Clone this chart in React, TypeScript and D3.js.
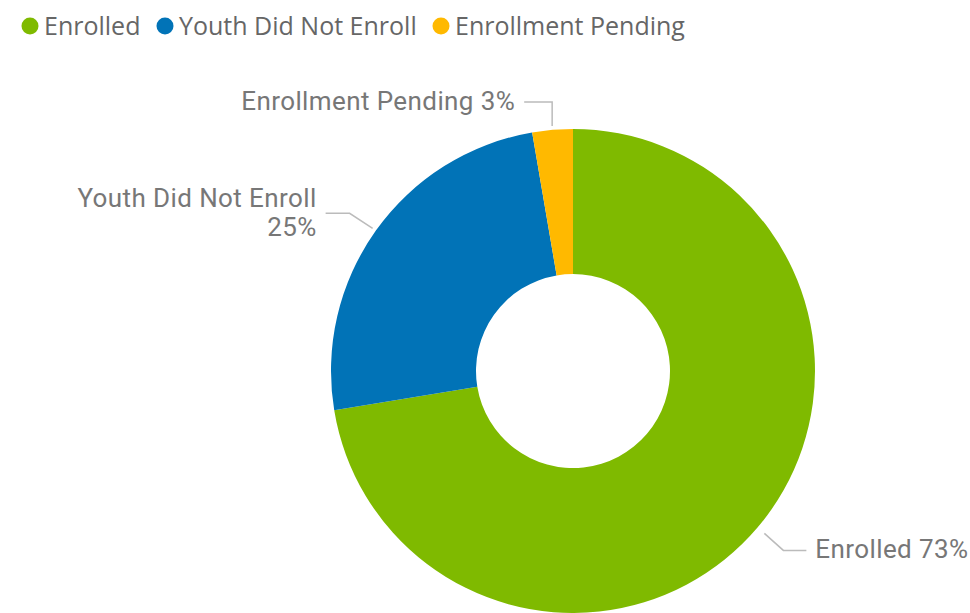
import React, { useEffect, useRef } from "react";
import * as d3 from "d3";

const categories = ["Enrolled", "Youth Did Not Enroll", "Enrollment Pending"];
const values = [72.4, 24.9, 2.7];
const labelTexts = [["Enrolled 73%"], ["Youth Did Not Enroll", "25%"], ["Enrollment Pending 3%"]];
const colors = ["#7FBA00", "#0173B7", "#FFB900"];

export default function App() {
  const ref = useRef<SVGSVGElement>(null);
  useEffect(() => {
    const svg = d3.select(ref.current);
    svg.selectAll("*").remove();
    const W = 970, H = 613;
    const cx = 573, cy = 371, R = 242, r = 97;

    // legend
    const legendX = [30, 165, 441];
    const lg = svg.append("g");
    categories.forEach((c, i) => {
      lg.append("circle").attr("cx", legendX[i]).attr("cy", 26).attr("r", 8.5).attr("fill", colors[i]);
      lg.append("text").attr("x", legendX[i] + 14).attr("y", 26).attr("dy", "0.36em")
        .attr("font-family", "'Open Sans', 'Noto Sans', sans-serif").attr("font-size", 25)
        .attr("fill", "#666").text(c);
    });

    const pie = d3.pie<number>().sort(null).value(d => d);
    const arcs = pie(values);
    const arc = d3.arc<d3.PieArcDatum<number>>().innerRadius(r).outerRadius(R);
    const g = svg.append("g").attr("transform", `translate(${cx},${cy})`);
    g.selectAll("path").data(arcs).join("path")
      .attr("d", arc as any).attr("fill", (_, i) => colors[i]);

    // leader lines
    const leaders = [
      { off: 9, dx1: 19, dy1: 17, dx2: 23, dy2: 0, anchor: "start", gap: 9, ty: -2 },
      { off: 4, dx1: -23, dy1: -15, dx2: -24, dy2: 0, anchor: "end", gap: -9, ty: -1 },
      { off: 4, dx1: 0, dy1: -24, dx2: -28, dy2: 0, anchor: "end", gap: -9, ty: -1 },
    ];
    arcs.forEach((a, i) => {
      const L = leaders[i];
      const mid = (a.startAngle + a.endAngle) / 2;
      const x0 = Math.sin(mid) * (R + L.off);
      const y0 = -Math.cos(mid) * (R + L.off);
      const x1 = x0 + L.dx1, y1 = y0 + L.dy1;
      const x2 = x1 + L.dx2, y2 = y1 + L.dy2;
      g.append("polyline").attr("points", `${x0},${y0} ${x1},${y1} ${x2},${y2}`)
        .attr("fill", "none").attr("stroke", "#bbb").attr("stroke-width", 1.5);
      const tx = x2 + L.gap;
      const lines = labelTexts[i];
      const t = g.append("text").attr("text-anchor", L.anchor)
        .attr("font-family", "Roboto, sans-serif").attr("font-size", 26)
        .attr("letter-spacing", 0.4).attr("fill", "#777");
      lines.forEach((ln, j) => {
        t.append("tspan").attr("x", tx)
          .attr("y", y2 + (j - (lines.length - 1) / 2) * 29.5 + L.ty)
          .attr("dy", "0.36em").text(ln);
      });
    });
    svg.attr("width", W).attr("height", H);
  }, []);
  return (
    <svg ref={ref} width={970} height={613}
      style={{ position: "absolute", left: 0, top: 0, background: "#fff" }} />
  );
}
